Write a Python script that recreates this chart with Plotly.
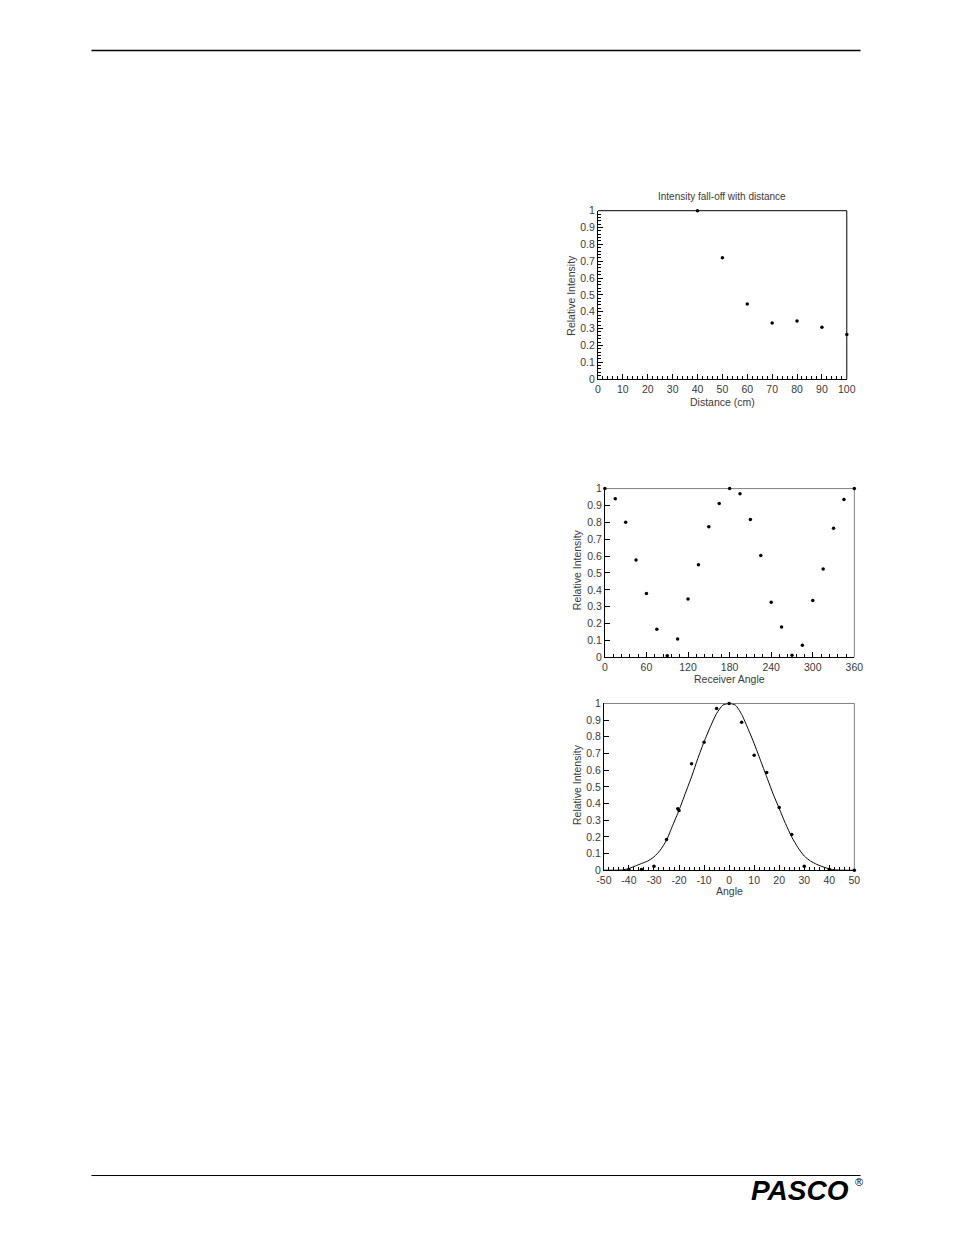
import plotly.graph_objects as go

W, H = 954, 1235

# ---------------- data ----------------
# Chart 1: Intensity fall-off with distance
dist_cm = [40, 50, 60, 70, 80, 90, 100]
dist_intensity = [1.0, 0.72, 0.445, 0.333, 0.345, 0.307, 0.265]

# Chart 2: Relative intensity vs receiver angle
recv_angle = [0, 15, 30, 45, 60, 75, 90, 105, 120, 135, 150, 165, 180,
              195, 210, 225, 240, 255, 270, 285, 300, 315, 330, 345, 360]
recv_intensity = [1.0, 0.94, 0.80, 0.577, 0.378, 0.166, 0.01, 0.108, 0.346, 0.548,
                  0.773, 0.912, 1.0, 0.97, 0.816, 0.603, 0.327, 0.18, 0.012, 0.072,
                  0.337, 0.524, 0.765, 0.935, 1.0]

# Chart 3: Relative intensity vs angle (points + fitted curve)
angle_pts = [-40, -35, -30, -25, -20.5, -20, -15, -10, -5, 0, 5, 10, 15, 20, 25, 30, 40, 50]
angle_intensity = [0.005, 0.005, 0.024, 0.184, 0.368, 0.358, 0.638, 0.768, 0.97, 1.0,
                   0.887, 0.69, 0.586, 0.376, 0.214, 0.024, 0.004, 0.0]

fit_angle = [-50, -45, -42.5, -40, -37.5, -35, -32.5, -30, -27.5, -25, -22.5, -20, -17.5,
             -15, -12.5, -10, -7.5, -5, -2.5, 0, 2.5, 5, 7.5, 10, 12.5, 15, 17.5, 20,
             22.5, 25, 27.5, 30, 32.5, 35, 37.5, 40, 42.5, 45, 50]
fit_intensity = [0.0, 0.0, 0.002, 0.01, 0.025, 0.04, 0.055, 0.08, 0.12, 0.18, 0.27, 0.36, 0.46,
                 0.56, 0.67, 0.77, 0.86, 0.94, 0.99, 1.0, 0.99, 0.935, 0.85, 0.76, 0.66, 0.56,
                 0.46, 0.37, 0.28, 0.20, 0.135, 0.085, 0.055, 0.035, 0.02, 0.008, 0.002, 0.0, 0.0]

# Tick labels
dist_ticks = [0, 10, 20, 30, 40, 50, 60, 70, 80, 90, 100]
recv_ticks = [0, 60, 120, 180, 240, 300, 360]
angle_ticks = [-50, -40, -30, -20, -10, 0, 10, 20, 30, 40, 50]
intensity_ticks = [0, 0.1, 0.2, 0.3, 0.4, 0.5, 0.6, 0.7, 0.8, 0.9, 1]
intensity_labels = ["0", "0.1", "0.2", "0.3", "0.4", "0.5", "0.6", "0.7", "0.8", "0.9", "1"]

# ---------------- layout helpers ----------------
FONT = "Liberation Sans, Arial, sans-serif"
TXT = "#3a3a3a"


def px(x):
    return x / W


def py(y):
    return 1 - y / H


# plot area pixel boxes (left, right, top, bottom)
box1 = (600.7, 854.0, 206.7, 376.7)
box2 = (607.7, 861.7, 487.3, 657.7)
box3 = (606.7, 861.7, 704.3, 872.7)


def xax(box, rng, tickvals, minor_dtick, anchor):
    d = dict(domain=[px(box[0]), px(box[1])], range=rng, tickmode="array",
             tickvals=tickvals, ticktext=[str(v) for v in tickvals],
             ticks="inside", ticklen=5, tickwidth=1, tickcolor="black",
             showline=True, linecolor="black", linewidth=1, showgrid=False,
             zeroline=False, anchor=anchor, fixedrange=True,
             tickfont=dict(family=FONT, size=10.5, color=TXT))
    if minor_dtick:
        d["minor"] = dict(dtick=minor_dtick, tick0=rng[0], ticks="inside", ticklen=3,
                          tickwidth=1, tickcolor="black", showgrid=False)
    return d


def yax(box, minor_dtick, anchor):
    d = dict(domain=[py(box[3]), py(box[2])], range=[0, 1], tickmode="array",
             tickvals=intensity_ticks, ticktext=intensity_labels,
             ticks="inside", ticklen=5, tickwidth=1, tickcolor="black",
             showline=True, linecolor="black", linewidth=1, showgrid=False,
             zeroline=False, anchor=anchor, fixedrange=True,
             tickfont=dict(family=FONT, size=10.5, color=TXT))
    if minor_dtick:
        d["minor"] = dict(dtick=minor_dtick, tick0=0, ticks="inside", ticklen=3,
                          tickwidth=1, tickcolor="black", showgrid=False)
    return d


fig = go.Figure()

marker = dict(color="black", size=3.5, symbol="circle")

fig.add_trace(go.Scatter(x=dist_cm, y=dist_intensity, mode="markers", marker=marker,
                         xaxis="x", yaxis="y", cliponaxis=False, showlegend=False))
fig.add_trace(go.Scatter(x=recv_angle, y=recv_intensity, mode="markers", marker=marker,
                         xaxis="x2", yaxis="y2", cliponaxis=False, showlegend=False))
fig.add_trace(go.Scatter(x=fit_angle, y=fit_intensity, mode="lines",
                         line=dict(color="black", width=1, shape="spline", smoothing=0.6),
                         xaxis="x3", yaxis="y3", cliponaxis=False, showlegend=False))
fig.add_trace(go.Scatter(x=angle_pts, y=angle_intensity, mode="markers", marker=marker,
                         xaxis="x3", yaxis="y3", cliponaxis=False, showlegend=False))

shapes = []
# frames (top and right edges)
for box, col in ((box1, "black"), (box2, "#808080"), (box3, "#808080")):
    l, r, t, b = box
    shapes.append(dict(type="line", xref="paper", yref="paper", x0=px(l), x1=px(r),
                       y0=py(t), y1=py(t), line=dict(color=col, width=1), layer="below"))
    shapes.append(dict(type="line", xref="paper", yref="paper", x0=px(r), x1=px(r),
                       y0=py(t), y1=py(b), line=dict(color=col, width=1), layer="below"))
# header & footer rules
shapes.append(dict(type="line", xref="paper", yref="paper", x0=px(85), x1=px(868),
                   y0=py(45), y1=py(45), line=dict(color="black", width=1.5)))
shapes.append(dict(type="line", xref="paper", yref="paper", x0=px(85), x1=px(868),
                   y0=py(1181), y1=py(1181), line=dict(color="black", width=1)))


def ann(text, x, y, size=10.5, angle=0, **kw):
    d = dict(text=text, xref="paper", yref="paper", x=px(x), y=py(y), showarrow=False,
             xanchor="center", yanchor="middle", textangle=angle,
             font=dict(family=FONT, size=size, color=TXT))
    d.update(kw)
    return d


annotations = [
    ann("Intensity fall-off with distance", 727.3, 192.5, size=10),
    ann("Distance (cm)", 727.3, 400, size=10.5),
    ann("Relative Intensity", 573, 291.7, size=10.5, angle=-90),
    ann("Receiver Angle", 734.7, 680, size=10.5),
    ann("Relative Intensity", 580, 569, size=10.5, angle=-90),
    ann("Angle", 734.2, 894, size=10.5),
    ann("Relative Intensity", 580, 786, size=10.5, angle=-90),
    dict(text="<b><i>PASCO</i></b>", xref="paper", yref="paper", x=px(858), y=py(1196),
         xanchor="right", yanchor="middle", showarrow=False,
         font=dict(family=FONT, size=28, color="black")),
    dict(text="®", xref="paper", yref="paper", x=px(860), y=py(1188),
         xanchor="left", yanchor="middle", showarrow=False,
         font=dict(family=FONT, size=11, color="black")),
]

fig.update_layout(
    width=W, height=H, margin=dict(l=0, r=0, t=0, b=0),
    paper_bgcolor="white", plot_bgcolor="white", showlegend=False,
    xaxis=xax(box1, [0, 100], dist_ticks, 2, "y"),
    yaxis=yax(box1, 0.02, "x"),
    xaxis2=xax(box2, [0, 360], recv_ticks, 12, "y2"),
    yaxis2=yax(box2, None, "x2"),
    xaxis3=xax(box3, [-50, 50], angle_ticks, 2, "y3"),
    yaxis3=yax(box3, None, "x3"),
    shapes=shapes, annotations=annotations,
)

fig.write_html(
    "out.html",
    config={"displayModeBar": False},
    post_script="document.body.style.margin='0';document.body.style.overflow='hidden';"
                "document.documentElement.style.overflow='hidden';",
)
